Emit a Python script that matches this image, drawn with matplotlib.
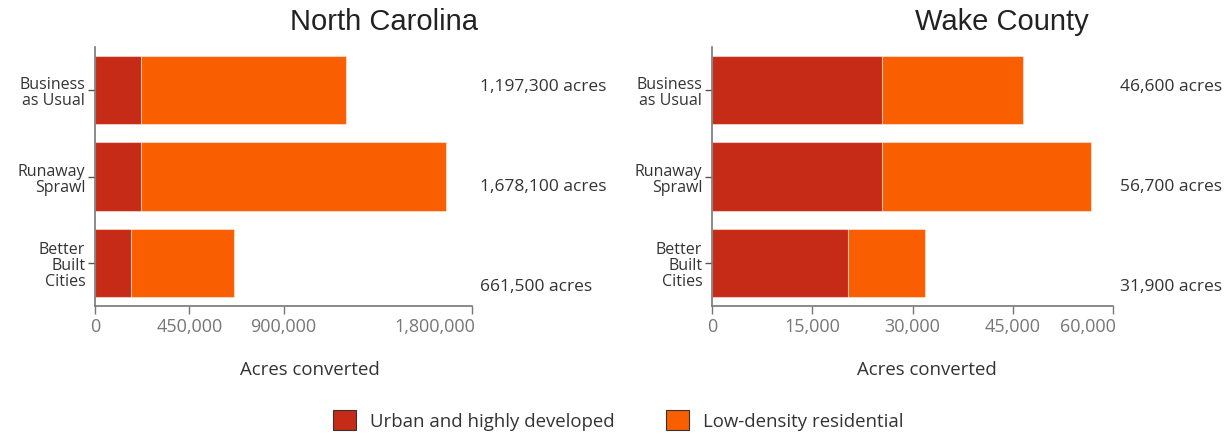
import matplotlib
matplotlib.use("Agg")
import matplotlib.pyplot as plt
import matplotlib.transforms as mtransforms
from matplotlib.patches import Patch
from matplotlib.ticker import FuncFormatter

categories = ["Business\nas Usual", "Runaway\nSprawl", "Better\nBuilt\nCities"]
series_names = ["Urban and highly developed", "Low-density residential"]

nc_urban = [220000, 220000, 172000]
nc_total = [1197300, 1678100, 661500]
nc_lowdens = [t - u for t, u in zip(nc_total, nc_urban)]
nc_ticks = [0, 450000, 900000, 1800000]
nc_xmax = 1800000

wake_urban = [25400, 25400, 20300]
wake_total = [46600, 56700, 31900]
wake_lowdens = [t - u for t, u in zip(wake_total, wake_urban)]
wake_ticks = [0, 15000, 30000, 45000, 60000]
wake_xmax = 60000

titles = ["North Carolina", "Wake County"]
xlabel = "Acres converted"

C_URBAN = "#C52B17"
C_LOW = "#F95E01"
FONT = "Open Sans"

plt.rcParams["font.family"] = [FONT, "DejaVu Sans"]

fig = plt.figure(figsize=(12.28, 4.35), dpi=100)
W, H = 1228, 435

def make_ax(x0, x1, y_top, y_bot):
    return fig.add_axes([x0 / W, 1 - y_bot / H, (x1 - x0) / W, (y_bot - y_top) / H])

axes = [make_ax(95, 472, 48, 307), make_ax(712, 1113, 48, 307)]
data = [
    (nc_urban, nc_lowdens, nc_total, nc_ticks, nc_xmax, 0.57, 384),
    (wake_urban, wake_lowdens, wake_total, wake_ticks, wake_xmax, 0.536, 1002),
]
label_x = [1.021, 1.017]
label_yfrac = [0.85, 0.463, 0.077]

for i, (ax, (urb, low, tot, ticks, xmax, xl, tx)) in enumerate(zip(axes, data)):
    ypos = list(range(len(categories)))
    ax.barh(ypos, urb, height=0.79, color=C_URBAN, edgecolor=(1, 1, 1, 0.45), linewidth=0.8)
    ax.barh(ypos, low, left=urb, height=0.79, color=C_LOW, edgecolor=(1, 1, 1, 0.45), linewidth=0.8)
    ax.set_ylim(2.5, -0.5)
    ax.set_xlim(0, xmax)
    ax.set_yticks(ypos)
    ax.set_yticklabels(categories, fontsize=11.5, color="#333333", linespacing=1.0, ha="right")
    ax.set_xticks(ticks)
    ax.xaxis.set_major_formatter(FuncFormatter(lambda v, p: f"{int(v):,}"))
    ax.tick_params(axis="x", colors="#777777", labelsize=13, length=6, width=1, pad=2)
    ax.tick_params(axis="y", colors="#555555", labelcolor="#333333", length=5, width=1, pad=2)
    last = ax.get_xticklabels()[-1]
    last.set_horizontalalignment("right")
    last.set_transform(last.get_transform() +
                       mtransforms.ScaledTranslation(3 / 100, 0, fig.dpi_scale_trans))
    for s in ["top", "right"]:
        ax.spines[s].set_visible(False)
    for s in ["left", "bottom"]:
        ax.spines[s].set_color("#777777")
        ax.spines[s].set_linewidth(1.2)
    ax.set_xlabel(xlabel, fontsize=13.4, color="#333333")
    ax.xaxis.set_label_coords(xl, -0.21)
    for t, yf in zip(tot, label_yfrac):
        ax.text(label_x[i], yf, f"{t:,} acres", transform=ax.transAxes,
                ha="left", va="center", fontsize=12.5, color="#333333")
    fig.text(tx / W, 1 - 22 / H, titles[i], ha="center", va="center",
             fontsize=21, color="#222222", family="Liberation Sans")

handles = [Patch(facecolor=C_URBAN, edgecolor="#333333", linewidth=0.8),
           Patch(facecolor=C_LOW, edgecolor="#333333", linewidth=0.8)]
fig.legend(handles, series_names, loc="center", bbox_to_anchor=(618.5 / W, 1 - 421 / H),
           ncol=2, frameon=False, fontsize=13.4, handlelength=1.25, handleheight=1.25,
           handletextpad=0.75, columnspacing=2.75, labelcolor="#333333")

fig.savefig("out.png", dpi=100)
